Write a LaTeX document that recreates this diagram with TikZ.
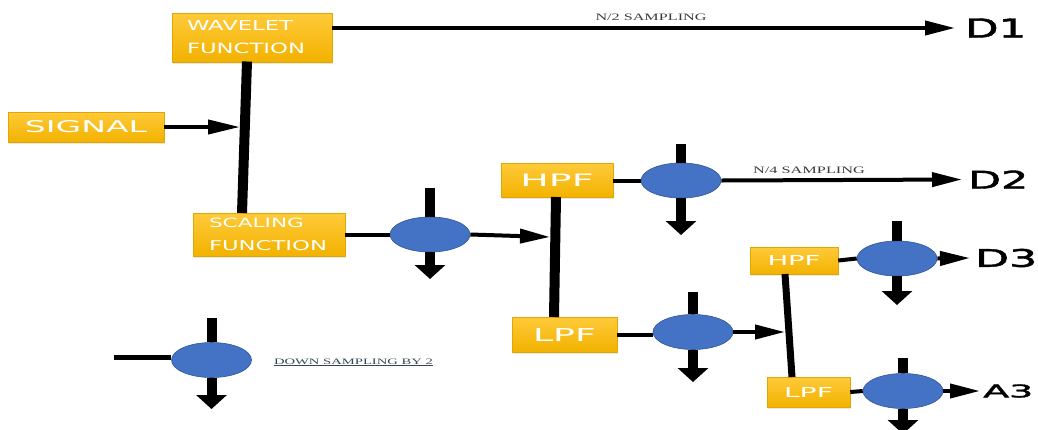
\documentclass[tikz,border=0pt]{standalone}
\usepackage{fontspec}
\setmainfont{DejaVu Sans}
\newfontfamily\labserif{Liberation Serif}
\newfontfamily\medsans[FakeBold=1.6]{DejaVu Sans}
\usepackage{graphicx}
\usetikzlibrary{arrows.meta,shapes.geometric,calc,shadows}
\definecolor{boxtop}{HTML}{FFCA3A}
\definecolor{boxbot}{HTML}{F2B200}
\definecolor{boxedge}{HTML}{E2A600}
\definecolor{dsblue}{HTML}{4472C4}
\definecolor{dsedge}{HTML}{2F5597}
\definecolor{labgray}{HTML}{3C3C3C}
\definecolor{leggray}{HTML}{34474F}
\newcommand\rzbox[3]{\resizebox{#1pt}{#2pt}{#3}}
\begin{document}
\begin{tikzpicture}[x=1pt,y=1pt,
  box/.style={rectangle, top color=boxtop, bottom color=boxbot, draw=boxedge,
    line width=0.5pt, text=white, inner sep=0pt,
    drop shadow={opacity=0.18, shadow xshift=1pt, shadow yshift=-1.5pt}},
  ds/.style={ellipse, fill=dsblue, draw=dsedge, line width=0.6pt,
    minimum width=80pt, minimum height=35pt, inner sep=0pt},
  ln/.style={line width=4pt},
  arr/.style={line width=4pt, -{Triangle[length=30pt,width=14pt]}},
  bar/.style={line width=10pt},
  dn/.style={line width=10pt, -{Triangle[length=14pt,width=30pt]}},
  outlab/.style={anchor=west, inner ysep=0pt, text=black, font=\medsans},
  smalllab/.style={inner sep=0pt, font=\labserif, text=labgray}
]
\useasboundingbox (0,0) rectangle (1038,-429);

% ---------- boxes ----------
\node[box, minimum width=160pt, minimum height=49pt, text width=130pt,
  inner xsep=15pt, align=left, font=\fontsize{10}{23}\selectfont]
  (wav) at (252,-37.5) {\rzbox{106}{10}{WAVELET}\\\rzbox{118}{10.5}{FUNCTION}};
\node[box, minimum width=156pt, minimum height=30pt] (sig) at (86,-127)
  {\rzbox{122}{12}{SIGNAL}};
\node[box, minimum width=152pt, minimum height=43pt, text width=120pt,
  inner xsep=16pt, align=left, font=\fontsize{10}{23.5}\selectfont]
  (scal) at (269,-234.5) {\rzbox{95}{9.5}{SCALING}\\\rzbox{118}{10}{FUNCTION}};
\node[box, minimum width=112pt, minimum height=34pt] (hpfa) at (557,-180.5)
  {\rzbox{73}{12.5}{HPF}};
\node[box, minimum width=105pt, minimum height=35pt] (lpfa) at (564.5,-334.5)
  {\rzbox{63}{13}{LPF}};
\node[box, minimum width=88pt, minimum height=27pt] (hpfb) at (794,-260.5)
  {\rzbox{53}{10}{HPF}};
\node[box, minimum width=83pt, minimum height=30pt] (lpfb) at (808.5,-392)
  {\rzbox{49}{10}{LPF}};

% ---------- down-sampling ellipses ----------
\node[ds] (ea) at (430,-234.5) {};
\node[ds] (eb) at (681,-180.5) {};
\node[ds] (ec) at (693,-332) {};
\node[ds] (ed) at (897,-258.5) {};
\node[ds] (ee) at (903,-391) {};
\node[ds] (el) at (211.5,-360) {};

% ---------- output labels ----------
\node[outlab, inner xsep=10pt] (dA) at (955,-28) {\rzbox{61}{19}{D1}};
\node[outlab, inner xsep=6pt] (dB) at (962,-179.5) {\rzbox{60}{18}{D2}};
\node[outlab, inner xsep=5pt] (dC) at (970,-258) {\rzbox{62}{18}{D3}};
\node[outlab, inner xsep=3pt] (aC) at (980,-391) {\rzbox{50}{13}{A3}};

\node[smalllab] (lab2) at (651,-17.5) {\rzbox{111}{6.5}{N/2 SAMPLING}};
\node[smalllab] (lab4) at (809,-170) {\rzbox{112}{6.5}{N/4 SAMPLING}};
\node[smalllab, text=leggray, anchor=north] (labl) at (353.5,-358.5)
  {\rzbox{159}{5.5}{\underline{DOWN SAMPLING BY 2}}};

% ---------- coordinates ----------
\coordinate (b1t) at (247,-61.5);
\coordinate (b1b) at (242,-213);
\coordinate (j1) at (240,-127);
\coordinate (b2t) at (556,-197);
\coordinate (b2b) at (554,-317);
\coordinate (j2) at (550,-237);
\coordinate (b3t) at (785,-274);
\coordinate (b3b) at (792,-377);
\coordinate (j3) at (785,-332);
\coordinate (lg) at (114,-357);

\coordinate (ua) at (430,-188);   \coordinate (ta) at (430,-279);
\coordinate (ub) at (681,-144);   \coordinate (tb) at (681,-235);
\coordinate (uc) at (693,-292);   \coordinate (tc) at (693,-382);
\coordinate (ud) at (897,-221);   \coordinate (td) at (897,-305);
\coordinate (ue) at (903,-358);   \coordinate (te) at (903,-434);
\coordinate (ul) at (211.5,-318); \coordinate (tl) at (211.5,-409);

% ---------- connectors ----------
\draw[bar] (b1t) -- (b1b);
\draw[bar] (b2t) -- (b2b);
\draw[line width=7pt] (b3t) -- (b3b);

\draw[arr, -{Triangle[length=32pt,width=14pt]}] (sig.east) -- (j1);
\draw[arr] (wav.east |- dA.west) -- (dA.west);
\draw[ln] (scal.east) -- (ea.west);
\draw[arr] (ea.east) -- (j2);
\draw[ln] (hpfa.east) -- (eb.west);
\draw[arr] (eb.east) -- (dB.west);
\draw[ln] (lpfa.east) -- (lpfa.east -| ec.west);
\draw[arr] (ec.east) -- (j3);
\draw[ln] (hpfb.east) -- (ed.west);
\draw[arr] (ed.east) -- (dC.west);
\draw[ln] (lpfb.east) -- (ee.west);
\draw[arr] (ee.east) -- (aC.west);
\draw[line width=5pt] (lg) -- (lg -| el.west);

% down-sampling bars and arrows
\foreach \e/\u/\t in {ea/ua/ta, eb/ub/tb, ec/uc/tc, ed/ud/td, ee/ue/te, el/ul/tl}{
  \draw[bar] (\u) -- (\e.north);
  \draw[dn] (\e.south) -- (\t);
}
\end{tikzpicture}
\end{document}
